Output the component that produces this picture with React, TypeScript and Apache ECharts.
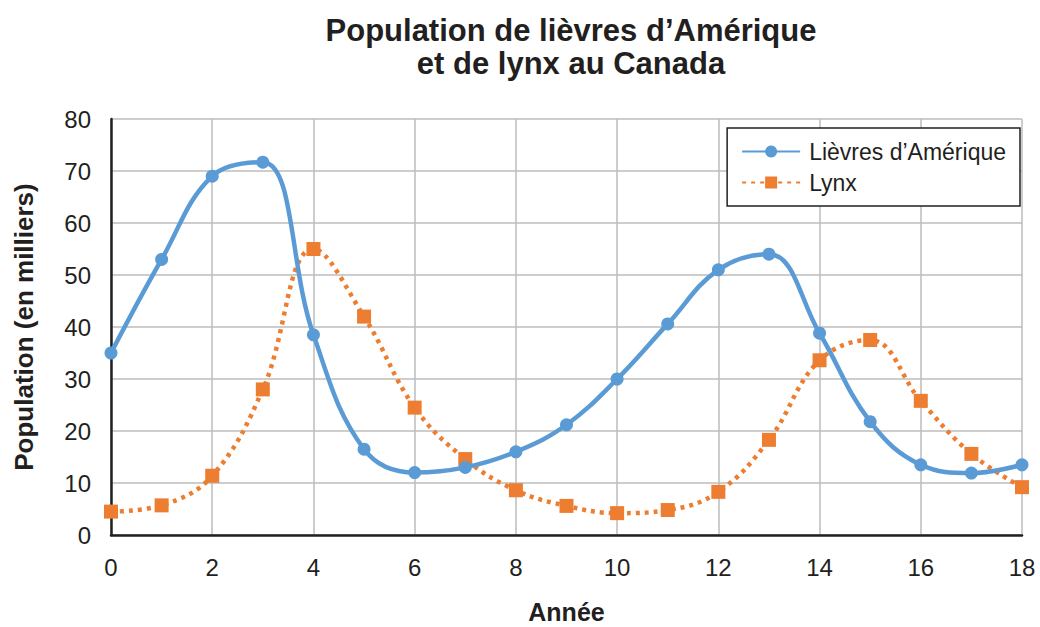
import React, { useEffect, useRef } from "react";
import * as echarts from "echarts";

const years = [0, 1, 2, 3, 4, 5, 6, 7, 8, 9, 10, 11, 12, 13, 14, 15, 16, 17, 18];
const hares = [35, 53, 69, 71.7, 38.5, 16.5, 12, 13, 16, 21.2, 30, 40.6, 51, 54, 38.8, 21.8, 13.5, 11.9, 13.5];
const lynx = [4.5, 5.7, 11.4, 28, 55, 42, 24.5, 14.6, 8.6, 5.6, 4.2, 4.8, 8.3, 18.3, 33.6, 37.5, 25.8, 15.6, 9.2];

const title = "Population de lièvres d’Amérique\net de lynx au Canada";
const xName = "Année";
const yName = "Population (en milliers)";
const hareName = "Lièvres d’Amérique";
const lynxName = "Lynx";

export default function App() {
  const ref = useRef<HTMLDivElement>(null);
  useEffect(() => {
    if (!ref.current) return;
    const chart = echarts.init(ref.current, undefined, { renderer: "svg" });
    const font = "Liberation Sans, Arial, sans-serif";
    chart.setOption({
      animation: false,
      textStyle: { fontFamily: font },
      title: {
        text: title,
        left: 566,
        textAlign: "center",
        top: 9,
        textStyle: { fontFamily: font, fontSize: 31, fontWeight: "bold", color: "#231f20", lineHeight: 33 },
      },
      legend: {
        orient: "vertical",
        right: 20,
        top: 128,
        width: 295,
        padding: [12, 14, 12, 14],
        itemGap: 8,
        itemWidth: 58,
        itemHeight: 15,
        borderColor: "#231f20",
        borderWidth: 1.5,
        backgroundColor: "#fff",
        textStyle: { fontFamily: font, fontSize: 23, color: "#231f20", padding: [0, 0, 0, 4] },
        data: [hareName, lynxName],
      },
      grid: { left: 111, right: 18, top: 119, bottom: 92, containLabel: false, outerBoundsMode: "none" },
      xAxis: {
        type: "value",
        min: 0,
        max: 18,
        interval: 2,
        name: xName,
        nameLocation: "middle",
        nameGap: 64,
        nameTextStyle: { fontFamily: font, fontSize: 25, lineHeight: 25, fontWeight: "bold", color: "#231f20" },
        axisLine: { show: true, lineStyle: { color: "#231f20", width: 2.5 } },
        axisTick: { show: false },
        axisLabel: { fontFamily: font, fontSize: 24, color: "#231f20", margin: 20 },
        splitLine: { show: true, lineStyle: { color: "#bcbcbc", width: 1.5 } },
      },
      yAxis: {
        type: "value",
        min: 0,
        max: 80,
        interval: 10,
        name: yName,
        nameLocation: "middle",
        nameGap: 74,
        nameTextStyle: { fontFamily: font, fontSize: 26, fontWeight: "bold", color: "#231f20" },
        axisLine: { show: true, lineStyle: { color: "#231f20", width: 2.5 } },
        axisTick: { show: false },
        axisLabel: { fontFamily: font, fontSize: 24, color: "#231f20", margin: 20 },
        splitLine: { show: true, lineStyle: { color: "#bcbcbc", width: 1.5 } },
      },
      series: [
        {
          name: hareName,
          type: "line",
          smooth: 0.4,
          data: years.map((x, i) => [x, hares[i]]),
          symbol: "circle",
          symbolSize: 13,
          itemStyle: { color: "#5b9bd5" },
          lineStyle: { color: "#5b9bd5", width: 4.5 },
          z: 3,
        },
        {
          name: lynxName,
          type: "line",
          smooth: 0.4,
          data: years.map((x, i) => [x, lynx[i]]),
          symbol: "rect",
          symbolSize: 14,
          itemStyle: { color: "#ed7d31" },
          lineStyle: { color: "#ed7d31", width: 4.5, type: [4, 5] },
          z: 2,
        },
      ],
    });
    return () => chart.dispose();
  }, []);
  return <div ref={ref} style={{ width: 1040, height: 627, position: "absolute", left: 0, top: 0 }} />;
}
